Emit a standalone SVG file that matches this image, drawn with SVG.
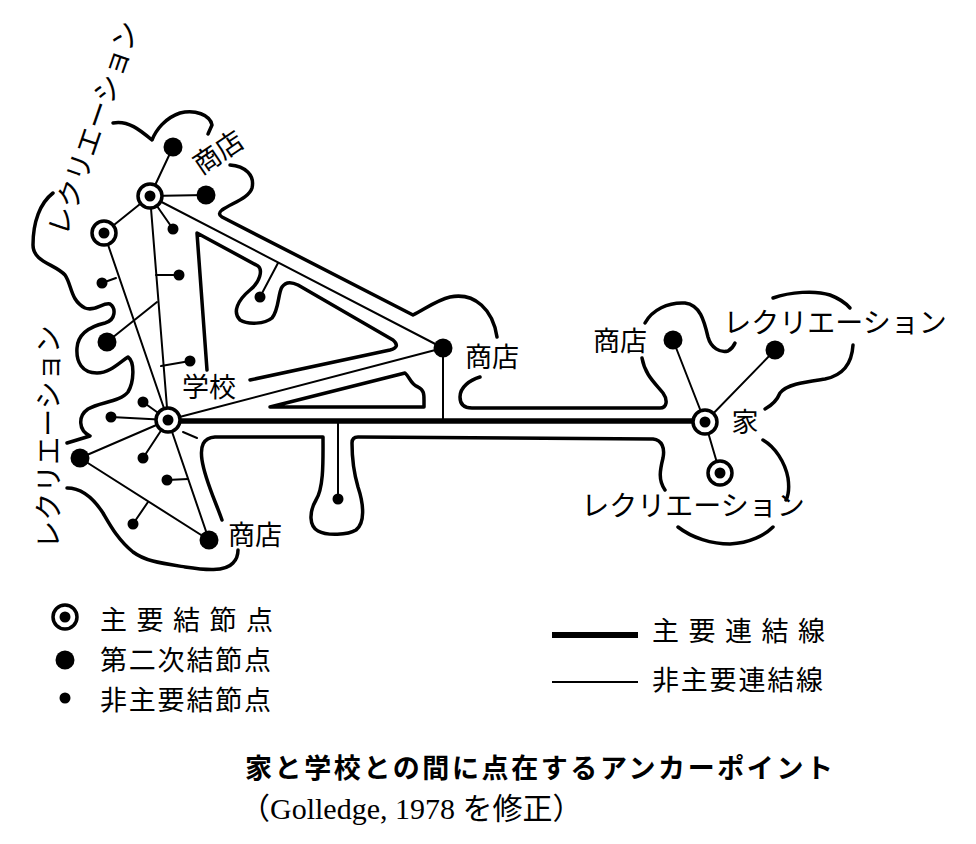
<svg xmlns="http://www.w3.org/2000/svg" width="976" height="844" viewBox="0 0 976 844">
<style>
.ol{fill:none;stroke:#000;stroke-width:3.5;stroke-linecap:round;stroke-linejoin:round}
.cn{fill:none;stroke:#000;stroke-width:2;stroke-linecap:round}
.mn{fill:none;stroke:#000;stroke-width:5.5}
.pr{fill:#fff;stroke:#000;stroke-width:3.5}
.dk{fill:#000}
.lb{font-family:"Noto Sans CJK JP","Noto Sans",sans-serif;font-size:27px;fill:#000}
.lg{font-family:"Noto Sans CJK JP","Noto Sans",sans-serif;font-size:27px;fill:#000}
.tt{font-family:"Noto Sans CJK JP",sans-serif;font-size:27px;font-weight:700;fill:#000;letter-spacing:2.6px}
.ct{font-family:"Liberation Serif","Noto Sans CJK JP",serif;font-size:30px;fill:#000}
</style>
<defs>
<g id="primary"><circle r="12" class="pr"/><circle r="5.5" class="dk"/></g>
</defs>
<rect width="976" height="844" fill="#fff"/>

<g id="outlines">
<path class="ol" d="M53,193 C40,203 33,222 33,245 C33,262 55,264 65,275 C72,285 70,300 85,308 C95,312 103,302 110,304 C116,308 116,320 105,323 C92,326 78,333 77,348 C76,362 82,373 97,373 C110,373 120,362 128,357 C135,362 134,382 128,392 C120,402 100,402 88,409 C78,416 78,430 90,436 L67,443"/>
<path class="ol" d="M113,123 C128,120 140,130 152,140 C156,130 165,118 180,113 C195,109 210,115 212,125 L208,134"/>
<path class="ol" d="M230,165 C245,166 255,175 252,188 C249,198 232,203 222,210 Q217,214 222,217 L413,315 C425,309 437,300 450,297 C475,292 493,310 497,337"/>
<path class="ol" d="M207,370 L197,233 L258,266 C263,270 260,282 250,290 C238,300 232,312 240,320 C248,325 265,324 272,318 C279,310 278,293 282,287 C286,281 292,282 298,285 L393,340 Q401,347 390,350 L250,380"/>
<path class="ol" d="M270,407 L405,373 C410,377 410,384 418,387 C424,390 424,394 424,400 L424,407 Z"/>
<path class="ol" d="M480,377 C470,380 460,387 460,397 C460,405 465,408 472,408 L660,408 C667,408 668,400 663,393 C655,383 645,375 642,358"/>
<path class="ol" d="M645,323 C652,310 668,302 685,303 C700,305 704,320 708,337 C711,348 720,353 728,351 Q733,348 735,343"/>
<path class="ol" d="M773,298 C790,292 815,290 830,295 Q843,300 850,308"/>
<path class="ol" d="M853,345 C852,362 845,375 825,379 C805,382 787,384 780,393 Q776,403 765,409"/>
<path class="ol" d="M763,440 C775,447 785,462 788,478 Q790,492 786,500"/>
<path class="ol" d="M678,527 C692,538 712,544 730,544 C750,543 765,535 773,527"/>
<path class="ol" d="M222,520 C215,500 205,480 202,460 C200,446 203,438 215,437 L323,437 C323,460 324,487 316,500 C309,512 309,526 318,531 C327,536 348,535 356,530 C365,523 364,505 358,487 C353,470 352,455 352,443 Q352,437 358,437 L653,439 C662,440 665,448 663,458 C660,470 658,480 665,490"/>
<path class="ol" d="M67,488 C80,488 92,496 103,513 C110,525 118,540 133,552 C145,561 160,563 185,567 C205,570 225,572 233,563 Q238,558 238,550"/>
</g>

<g id="connectors">
<line class="mn" x1="180" y1="421" x2="692" y2="421"/>
<line class="cn" x1="150" y1="196" x2="173" y2="147"/>
<line class="cn" x1="150" y1="196" x2="206" y2="195"/>
<line class="cn" x1="150" y1="196" x2="173" y2="229"/>
<line class="cn" x1="150" y1="196" x2="104" y2="233"/>
<line class="cn" x1="150" y1="196" x2="168" y2="420"/>
<line class="cn" x1="150" y1="196" x2="443" y2="348"/>
<line class="cn" x1="104" y1="233" x2="168" y2="420"/>
<line class="cn" x1="102" y1="283" x2="116" y2="278"/>
<line class="cn" x1="107" y1="342" x2="157" y2="302"/>
<line class="cn" x1="179" y1="275" x2="156" y2="275"/>
<line class="cn" x1="190" y1="361" x2="161" y2="366"/>
<line class="cn" x1="260" y1="297" x2="278" y2="263"/>
<line class="cn" x1="168" y1="420" x2="443" y2="348"/>
<line class="cn" x1="443" y1="348" x2="443" y2="420"/>
<line class="cn" x1="168" y1="420" x2="143" y2="402"/>
<line class="cn" x1="168" y1="420" x2="111" y2="417"/>
<line class="cn" x1="168" y1="420" x2="143" y2="458"/>
<line class="cn" x1="168" y1="420" x2="80" y2="458"/>
<line class="cn" x1="80" y1="458" x2="209" y2="540"/>
<line class="cn" x1="168" y1="420" x2="209" y2="540"/>
<line class="cn" x1="167" y1="480" x2="188" y2="479"/>
<line class="cn" x1="133" y1="524" x2="148" y2="502"/>
<line class="cn" x1="183" y1="432" x2="197" y2="438"/>
<line class="cn" x1="338" y1="422" x2="338" y2="499"/>
<line class="cn" x1="705" y1="422" x2="673" y2="340"/>
<line class="cn" x1="705" y1="422" x2="775" y2="350"/>
<line class="cn" x1="705" y1="422" x2="720" y2="473"/>
</g>

<g id="n-top"><use href="#primary" x="150" y="196"/></g>
<g id="n-left"><use href="#primary" x="104" y="233"/></g>
<g id="n-school"><use href="#primary" x="168" y="420"/></g>
<g id="n-home"><use href="#primary" x="705" y="422"/></g>
<g id="n-rec-home"><use href="#primary" x="720" y="473"/></g>
<g id="n-shop-top"><circle class="dk" cx="173" cy="147" r="9.5"/></g>
<g id="n-shop-top2"><circle class="dk" cx="206" cy="195" r="9.5"/></g>
<g id="n-rec-left"><circle class="dk" cx="107" cy="342" r="9.5"/></g>
<g id="n-rec-left2"><circle class="dk" cx="80" cy="458" r="9.5"/></g>
<g id="n-shop-bottom"><circle class="dk" cx="209" cy="540" r="9.5"/></g>
<g id="n-shop-mid"><circle class="dk" cx="443" cy="348" r="9.5"/></g>
<g id="n-shop-home"><circle class="dk" cx="673" cy="340" r="9.5"/></g>
<g id="n-rec-home2"><circle class="dk" cx="775" cy="350" r="9.5"/></g>
<g id="n-minor">
<circle class="dk" cx="173" cy="229" r="5.5"/>
<circle class="dk" cx="179" cy="275" r="5.5"/>
<circle class="dk" cx="102" cy="283" r="5.5"/>
<circle class="dk" cx="190" cy="361" r="5.5"/>
<circle class="dk" cx="260" cy="297" r="5.5"/>
<circle class="dk" cx="143" cy="402" r="5.5"/>
<circle class="dk" cx="111" cy="417" r="5.5"/>
<circle class="dk" cx="143" cy="458" r="5.5"/>
<circle class="dk" cx="167" cy="480" r="5.5"/>
<circle class="dk" cx="133" cy="524" r="5.5"/>
<circle class="dk" cx="338" cy="499" r="5.5"/>
</g>

<g id="labels">
<text class="lb" transform="translate(218,152) rotate(-34)" x="0" y="10" text-anchor="middle">商店</text>
<text class="lb" style="font-size:28px" transform="translate(93,128) rotate(-71)" x="0" y="10.5" text-anchor="middle">レクリエーション</text>
<text class="lb" style="font-size:28px" transform="translate(48,437) rotate(-90)" x="0" y="10.5" text-anchor="middle">レクリエーション</text>
<text class="lb" x="209" y="397" text-anchor="middle">学校</text>
<text class="lb" x="492" y="367" text-anchor="middle">商店</text>
<text class="lb" x="255" y="545" text-anchor="middle">商店</text>
<text class="lb" x="620" y="351" text-anchor="middle">商店</text>
<text class="lb" x="745" y="432" text-anchor="middle">家</text>
<text class="lb" style="font-size:28px" x="835" y="333" text-anchor="middle">レクリエーション</text>
<text class="lb" style="font-size:28px" x="693" y="516" text-anchor="middle">レクリエーション</text>
</g>

<g id="legend">
<use href="#primary" x="65" y="617"/>
<circle class="dk" cx="65" cy="660" r="9.5"/>
<circle class="dk" cx="65" cy="698" r="5.5"/>
<text class="lg" x="100" y="630" style="letter-spacing:9.5px">主要結節点</text>
<text class="lg" x="100" y="670" style="letter-spacing:1.8px">第二次結節点</text>
<text class="lg" x="100" y="710" style="letter-spacing:1.8px">非主要結節点</text>
<line x1="552" y1="635" x2="638" y2="635" stroke="#000" stroke-width="6"/>
<line x1="552" y1="682" x2="638" y2="682" stroke="#000" stroke-width="2"/>
<text class="lg" x="652" y="641" style="letter-spacing:9.5px">主要連結線</text>
<text class="lg" x="652" y="690" style="letter-spacing:1.8px">非主要連結線</text>
</g>

<g id="caption">
<text class="tt" x="245" y="778">家と学校との間に点在するアンカーポイント</text>
<text class="ct" x="240" y="819">（Golledge, 1978 を修正）</text>
</g>
</svg>
